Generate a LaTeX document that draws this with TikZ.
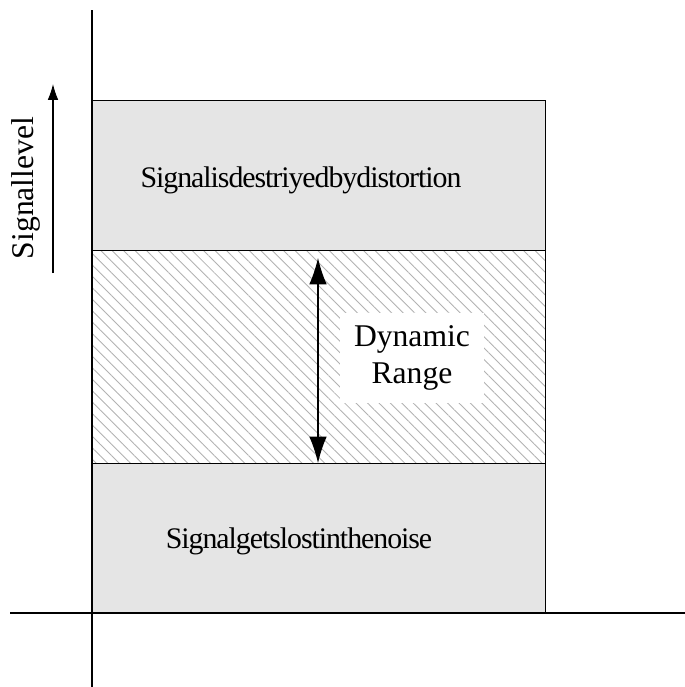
\documentclass[tikz,border=0pt]{standalone}
\usepackage{fontspec}
\setmainfont{Liberation Serif}
\newfontfamily\tightserif[LetterSpace=-3.5]{Liberation Serif}
\usetikzlibrary{arrows.meta,patterns.meta}
\tikzstyle{band} = [rectangle, draw=black, line width=0.6pt, fill=gray!20, inner sep=0pt, anchor=north west, minimum width=9.06cm, minimum height=3cm]
\tikzstyle{hatched} = [rectangle, draw=black, line width=0.6pt, inner sep=0pt, anchor=north west, minimum width=9.06cm, minimum height=4.26cm, pattern={Lines[angle=-45, distance=4.6pt, line width=0.5pt]}, pattern color=gray!60]
\tikzstyle{txt} = [font=\fontsize{18}{21}\selectfont, inner sep=0pt]
\tikzstyle{tighttxt} = [font=\fontsize{17}{20}\tightserif, inner sep=0pt]
\tikzstyle{axis} = [line width=0.6pt]
\tikzstyle{arrow} = [line width=0.6pt, -{Latex[length=9pt, width=6pt]}]
\tikzstyle{dblarrow} = [line width=0.6pt, {Latex[length=15pt, width=10pt]}-{Latex[length=15pt, width=10pt]}]

\begin{document}
\begin{tikzpicture}[x=0.02cm, y=-0.02cm]
        \useasboundingbox (0,0) rectangle (685,687);
        % the three bands
        \node (dist) [band] at (92,100) {};
        \node (range) [hatched] at (92,250) {};
        \node (noise) [band] at (92,463) {};
        % axes
        \coordinate (yt) at (92,10);
        \coordinate (yb) at (92,687);
        \coordinate (xl) at (10,613);
        \coordinate (xr) at (685,613);
        \draw [axis] (yt) -- (yb);
        \draw [axis] (xl) -- (xr);
        % labels
        \node (distlbl) [tighttxt] at (301,180) {Signalisdestriyedbydistortion};
        \node (noiselbl) [tighttxt] at (299,541) {Signalgetslostinthenoise};
        \node (levellbl) [txt, rotate=90] at (26,188) {Signallevel};
        \coordinate (lvlbot) at (53,273);
        \coordinate (lvltop) at (53,84);
        \draw [arrow] (lvlbot) -- (lvltop);
        % dynamic range
        \node (rangelbl) [txt, fill=white, minimum width=2.88cm, minimum height=1.82cm, align=center] at (412,358) {Dynamic\\Range};
        \coordinate (dtop) at (318,258);
        \coordinate (dbot) at (318,463);
        \draw [dblarrow] (dtop) -- (dbot);
\end{tikzpicture}
\end{document}
